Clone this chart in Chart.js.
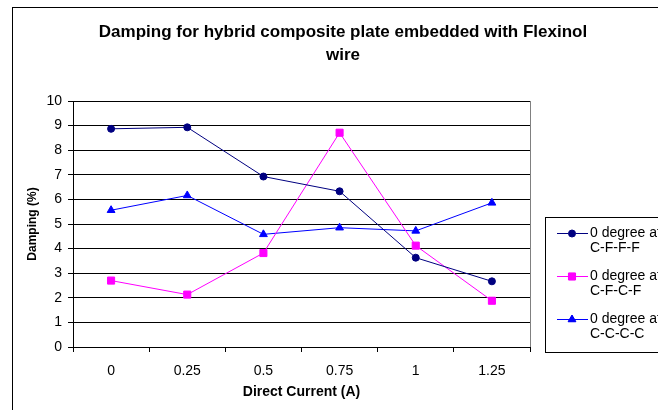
<!DOCTYPE html>
<html>
<head>
<meta charset="utf-8">
<script src="https://cdn.jsdelivr.net/npm/chart.js@4"></script>
<style>
  html, body { margin: 0; padding: 0; background: #fff; }
  #wrap { width: 658px; height: 410px; position: relative; }
</style>
</head>
<body>
<div id="wrap"><canvas id="dampingChart" width="658" height="410"></canvas></div>
<script>
const currents = ["0", "0.25", "0.5", "0.75", "1", "1.25"];
const cfff = [8.87, 8.93, 6.93, 6.33, 3.63, 2.67];
const cfcf = [2.70, 2.13, 3.82, 8.71, 4.12, 1.88];
const cccc = [5.56, 6.16, 4.58, 4.85, 4.72, 5.86];
const seriesNames = [["0 degree at", "C-F-F-F"], ["0 degree at", "C-F-C-F"], ["0 degree at", "C-C-C-C"]];
const titleLines = ["Damping for hybrid composite plate embedded with Flexinol", "wire"];

const FONT = "'Liberation Sans', Arial, sans-serif";

// frame, title, plot border and legend drawn by hand, like the spreadsheet chart
const decorations = {
  id: "decorations",
  beforeDraw(chart) {
    const c = chart.ctx;
    c.save();
    c.fillStyle = "#fff";
    c.fillRect(0, 0, chart.width, chart.height);
    c.strokeStyle = "#000";
    c.lineWidth = 1;
    c.strokeRect(12.5, 7.5, 800, 600);
    c.restore();
  },
  afterDraw(chart) {
    const c = chart.ctx;
    const a = chart.chartArea;
    c.save();
    // right border of plot area
    c.strokeStyle = "#808080";
    c.lineWidth = 1;
    c.beginPath();
    c.moveTo(Math.round(a.right) + 0.5, a.top);
    c.lineTo(Math.round(a.right) + 0.5, a.bottom);
    c.stroke();

    // title
    c.fillStyle = "#000";
    c.font = "bold 17px " + FONT;
    c.textAlign = "center";
    c.textBaseline = "middle";
    c.fillText(titleLines[0], 343, 32);
    c.fillText(titleLines[1], 343, 55);

    // legend
    c.fillStyle = "#fff";
    c.fillRect(545.5, 217.5, 200, 135);
    c.strokeStyle = "#000";
    c.strokeRect(545.5, 217.5, 200, 135);
    c.font = "14px " + FONT;
    c.textAlign = "left";
    const rows = [233, 276, 319];
    chart.data.datasets.forEach((ds, i) => {
      const y = rows[i];
      c.strokeStyle = ds.borderColor;
      c.lineWidth = 1;
      c.beginPath();
      c.moveTo(557, y + 0.5);
      c.lineTo(588, y + 0.5);
      c.stroke();
      Chart.helpers.drawPoint(c, {
        pointStyle: ds.pointStyle, radius: ds.pointRadius, borderWidth: 1
      }, 572, y + 0.5);
      c.fillStyle = ds.borderColor;
      c.fill();
      c.fillStyle = "#000";
      c.fillText(seriesNames[i][0], 590, y);
      c.fillText(seriesNames[i][1], 590, y + 15);
    });
    c.restore();
  }
};

new Chart(document.getElementById("dampingChart"), {
  type: "line",
  data: {
    labels: currents,
    datasets: [
      {
        label: seriesNames[0].join(" "),
        data: cfff,
        borderColor: "#000080",
        backgroundColor: "#000080",
        borderWidth: 1,
        pointStyle: "circle",
        pointRadius: 3.5,
        tension: 0
      },
      {
        label: seriesNames[1].join(" "),
        data: cfcf,
        borderColor: "#FF00FF",
        backgroundColor: "#FF00FF",
        borderWidth: 1,
        pointStyle: "rect",
        pointRadius: 5,
        tension: 0
      },
      {
        label: seriesNames[2].join(" "),
        data: cccc,
        borderColor: "#0000FF",
        backgroundColor: "#0000FF",
        borderWidth: 1,
        pointStyle: "triangle",
        pointRadius: 4.5,
        tension: 0
      }
    ]
  },
  options: {
    responsive: false,
    animation: false,
    layout: { padding: { left: 0, right: 128, top: 101, bottom: 0 } },
    plugins: {
      legend: { display: false },
      title: { display: false },
      tooltip: { enabled: false }
    },
    scales: {
      x: {
        offset: true,
        grid: {
          offset: true,
          drawOnChartArea: false,
          drawTicks: true,
          tickLength: 5,
          color: "#000"
        },
        border: { color: "#000", width: 1 },
        ticks: { color: "#000", font: { family: FONT, size: 14 }, padding: 11, maxRotation: 0 },
        title: {
          display: true,
          text: "Direct Current (A)",
          color: "#000",
          font: { family: FONT, size: 14, weight: "bold" },
          padding: { top: 0, bottom: 9 }
        },
        afterFit(scale) { scale.height = 63; }
      },
      y: {
        min: 0,
        max: 10,
        grid: { color: "#000", tickLength: 5 },
        border: { color: "#000", width: 1 },
        ticks: { stepSize: 1, color: "#000", font: { family: FONT, size: 14 }, padding: 6 },
        title: {
          display: true,
          text: "Damping (%)",
          color: "#000",
          font: { family: FONT, size: 12, weight: "bold" },
          padding: { top: 25, bottom: 0 }
        },
        afterFit(scale) { scale.width = 73; }
      }
    }
  },
  plugins: [decorations]
});
</script>
</body>
</html>
